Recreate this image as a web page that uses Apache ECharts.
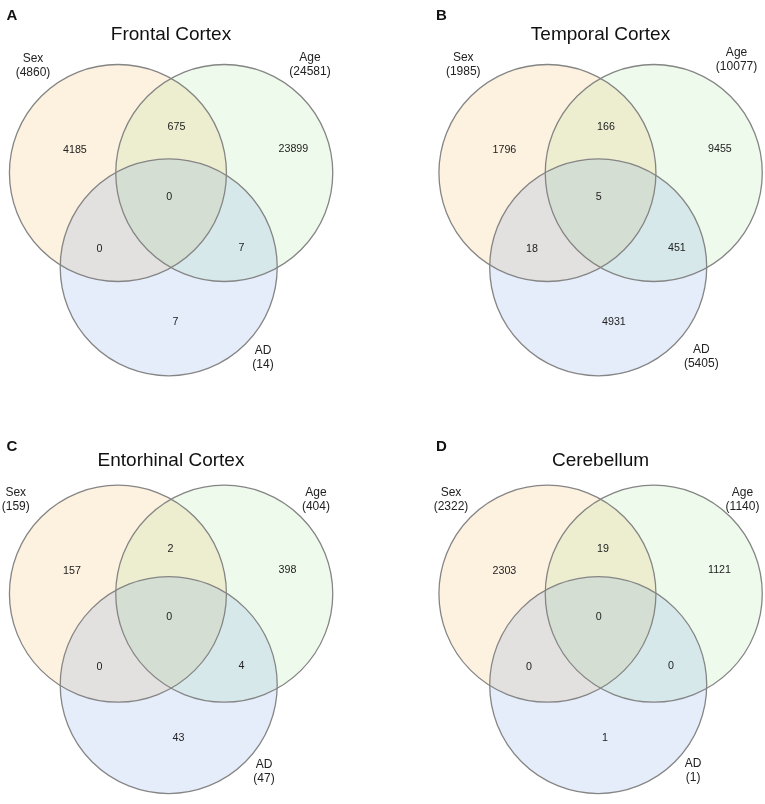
<!DOCTYPE html>
<html>
<head>
<meta charset="utf-8">
<script src="https://cdn.jsdelivr.net/npm/echarts@6/dist/echarts.min.js"></script>
<style>
html, body { margin: 0; padding: 0; background: #fff; }
#main { width: 765px; height: 804px; }
</style>
</head>
<body>
<div id="main"></div>
<script>
var panelLetters = ['A', 'B', 'C', 'D'];
var tissues = ['Frontal Cortex', 'Temporal Cortex', 'Entorhinal Cortex', 'Cerebellum'];
var setNames = ['Sex', 'Age', 'AD'];
var setTotals = [
    [4860, 24581, 14],
    [1985, 10077, 5405],
    [159, 404, 47],
    [2322, 1140, 1]
];
// regions: Sex only, Sex&Age, Age only, all three, Sex&AD, Age&AD, AD only
var regionCounts = [
    [4185, 675, 23899, 0, 0, 7, 7],
    [1796, 166, 9455, 5, 18, 451, 4931],
    [157, 2, 398, 0, 0, 4, 43],
    [2303, 19, 1121, 0, 0, 0, 1]
];

// layout, in circle radius units (origin between the Sex and Age centres)
var circleCentres = [[-0.49, 0], [0.49, 0], [-0.022, -0.869]];
var regionAnchors = [
    [-0.996, 0.212], [-0.033, 0.424], [0.990, 0.221], [-0.044, -0.221],
    [-0.687, -0.700], [0.621, -0.691], [0.013, -1.373]
];
var setLabelAnchors = [
    [[-1.273, 0.991], [1.280, 0.995], [0.847, -1.705]],
    [[-1.266, 0.995], [1.253, 1.044], [0.928, -1.696]],
    [[-1.432, 0.894], [1.335, 0.894], [0.856, -1.689]],
    [[-1.379, 0.894], [1.308, 0.894], [0.852, -1.687]]
];
var panelOrigins = [[0, 0], [429.5, 0], [0, 425.7], [429.5, 425.7]];
var fills = ['rgba(242,162,42,0.15)', 'rgba(142,222,122,0.15)', 'rgba(82,135,228,0.15)'];
var font = '"Liberation Sans", Arial, sans-serif';

var myChart = echarts.init(document.getElementById('main'));

var grids = [], xAxes = [], yAxes = [], titles = [], series = [];

panelLetters.forEach(function (letter, p) {
    var ox = panelOrigins[p][0], oy = panelOrigins[p][1];
    grids.push({left: ox + 8.35, top: oy + 10.25, width: 325.5, height: 379.75});
    xAxes.push({gridIndex: p, type: 'value', min: -1.5, max: 1.5, show: false});
    yAxes.push({gridIndex: p, type: 'value', min: -2, max: 1.5, show: false});

    titles.push({
        text: letter, left: ox + 6.5, top: (p < 2 ? 14 : 445) - 6, padding: 0,
        textStyle: {fontFamily: font, fontSize: 15, fontWeight: 'bold', color: '#111'}
    });
    titles.push({
        text: tissues[p], left: ox + 171, top: (p < 2 ? 33.5 : 459.5) - 8, padding: 0, textAlign: 'center',
        textStyle: {fontFamily: font, fontSize: 19, fontWeight: 'normal', color: '#111'}
    });

    var circleSeries = function (outline) {
        return {
            type: 'custom', xAxisIndex: p, yAxisIndex: p, silent: true,
            data: circleCentres,
            renderItem: function (params, api) {
                var c = api.coord([api.value(0), api.value(1)]);
                var r = api.size([1, 1])[0];
                return {
                    type: 'circle',
                    shape: {cx: c[0], cy: c[1], r: r},
                    style: outline
                        ? {fill: 'none', stroke: '#858585', lineWidth: 1.3}
                        : {fill: fills[params.dataIndex]}
                };
            }
        };
    };
    series.push(circleSeries(false));
    series.push(circleSeries(true));

    series.push({
        type: 'custom', xAxisIndex: p, yAxisIndex: p, silent: true,
        data: regionAnchors,
        renderItem: function (params, api) {
            var c = api.coord([api.value(0), api.value(1)]);
            return {
                type: 'text', x: c[0], y: c[1],
                style: {
                    text: String(regionCounts[p][params.dataIndex]),
                    fontFamily: font, fontSize: 10.7, fill: '#222',
                    align: 'left', verticalAlign: 'middle'
                }
            };
        }
    });

    series.push({
        type: 'custom', xAxisIndex: p, yAxisIndex: p, silent: true,
        data: setLabelAnchors[p],
        renderItem: function (params, api) {
            var c = api.coord([api.value(0), api.value(1)]);
            var i = params.dataIndex;
            return {
                type: 'text', x: c[0], y: c[1],
                style: {
                    text: setNames[i] + '\n(' + setTotals[p][i] + ')',
                    fontFamily: font, fontSize: 12, lineHeight: 14, fill: '#222',
                    align: 'center', verticalAlign: 'middle'
                }
            };
        }
    });
});

myChart.setOption({
    backgroundColor: '#fff',
    animation: false,
    title: titles,
    grid: grids,
    xAxis: xAxes,
    yAxis: yAxes,
    series: series
});
</script>
</body>
</html>
